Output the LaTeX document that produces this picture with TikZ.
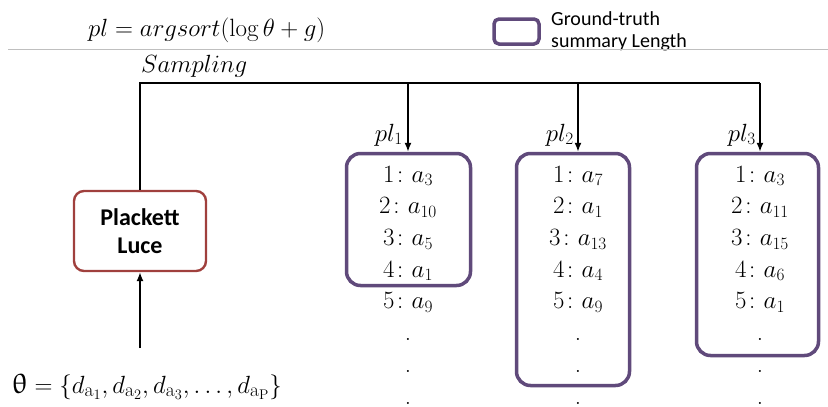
\documentclass[tikz,border=0pt]{standalone}
\usepackage{amsmath}
\usepackage{upgreek}
\usepackage{fontspec}
\newfontfamily\calibri{Carlito}
\usetikzlibrary{positioning,arrows.meta}
\definecolor{gtpurple}{HTML}{604A7B}
\definecolor{plred}{HTML}{A0403D}
\tikzset{
	formula/.style = {inner sep=0pt, font=\fontsize{25}{30}\selectfont}, % math labels
	gt box/.style = {draw=gtpurple, line width=3.5pt, rounded corners=14pt},
	ranking/.style = {align=center, inner sep=0pt, anchor=base, font=\fontsize{25}{31.7}\selectfont}, % base = last line
	sample arrow/.style = {-{Latex[length=9pt,width=7pt]}, line width=1.4pt},
	trunk/.style = {line width=2.4pt}
}

\begin{document}
\begin{tikzpicture}[x=1pt,y=-1pt]
	\tikzset{plackett/.style = {draw=plred, line width=2.4pt, rounded corners=10pt, minimum width=132pt, minimum height=80pt, align=center, font=\calibri\bfseries\fontsize{24}{28}\selectfont}}
	\tikzset{legend text/.style = {align=left, inner sep=0pt, font=\calibri\fontsize{20}{22}\selectfont}}
	\useasboundingbox (0,0) rectangle (828,407);
	% header
	\node[formula, anchor=base west] (argsort) at (88,36) {$pl = argsort(\log\theta + g)$};
	\node[gt box, rounded corners=5pt, minimum width=45pt, minimum height=25pt] (legend) at (516.5,31.5) {};
	\node[legend text, anchor=base west] (legendtext) at (551,47) {Ground-truth\\summary Length};
	\draw[black!25, line width=0.8pt] (8,49) -- (828,49);
	\node[formula, anchor=base west, font=\fontsize{27}{30}\selectfont] (sampling) at (141,72) {$Sampling$};
	% model
	\node[plackett] (pluce) at (140,231) {Plackett\\Luce};
	% sampled rankings
	\node[gt box, minimum width=124pt, minimum height=132pt] (box1) at (408.5,219.5) {};
	\node[gt box, minimum width=113pt, minimum height=232pt] (box2) at (573,269.5) {};
	\node[gt box, minimum width=122pt, minimum height=202pt] (box3) at (757.5,254.5) {};
	\node[ranking] (list1) at (408,404) {$1\colon a_3$\\$2\colon a_{10}$\\$3\colon a_5$\\$4\colon a_1$\\$5\colon a_9$\\.\\.\\.};
	\node[ranking] (list2) at (578,404) {$1\colon a_7$\\$2\colon a_1$\\$3\colon a_{13}$\\$4\colon a_4$\\$5\colon a_9$\\.\\.\\.};
	\node[ranking] (list3) at (760,404) {$1\colon a_3$\\$2\colon a_{11}$\\$3\colon a_{15}$\\$4\colon a_6$\\$5\colon a_1$\\.\\.\\.};
	\node[formula, anchor=base east] (pl1) at (403,141) {$pl_1$};
	\node[formula, anchor=base east] (pl2) at (574,141) {$pl_2$};
	\node[formula, anchor=base east] (pl3) at (756,141) {$pl_3$};
	% connectors
	\coordinate (split) at (140,83);
	\draw[trunk] (pluce.north) -- (pluce.north |- split) -- (list3.north |- split);
	\draw[sample arrow] (list1.north |- split) -- (list1.north |- box1.north);
	\draw[sample arrow] (list2.north |- split) -- (list2.north |- box2.north);
	\draw[sample arrow] (list3.north |- split) -- (list3.north |- box3.north);
	\node[formula, anchor=base west, font=\fontsize{28}{30}\selectfont] (theta) at (12,393) {$\uptheta = \{d_{\mathrm{a}_1}, d_{\mathrm{a}_2}, d_{\mathrm{a}_3}, \dots, d_{\mathrm{a}_\mathrm{P}}\}$};
	\coordinate (thetain) at (140,348);
	\draw[sample arrow] (thetain) -- (pluce.south);
\end{tikzpicture}
\end{document}
